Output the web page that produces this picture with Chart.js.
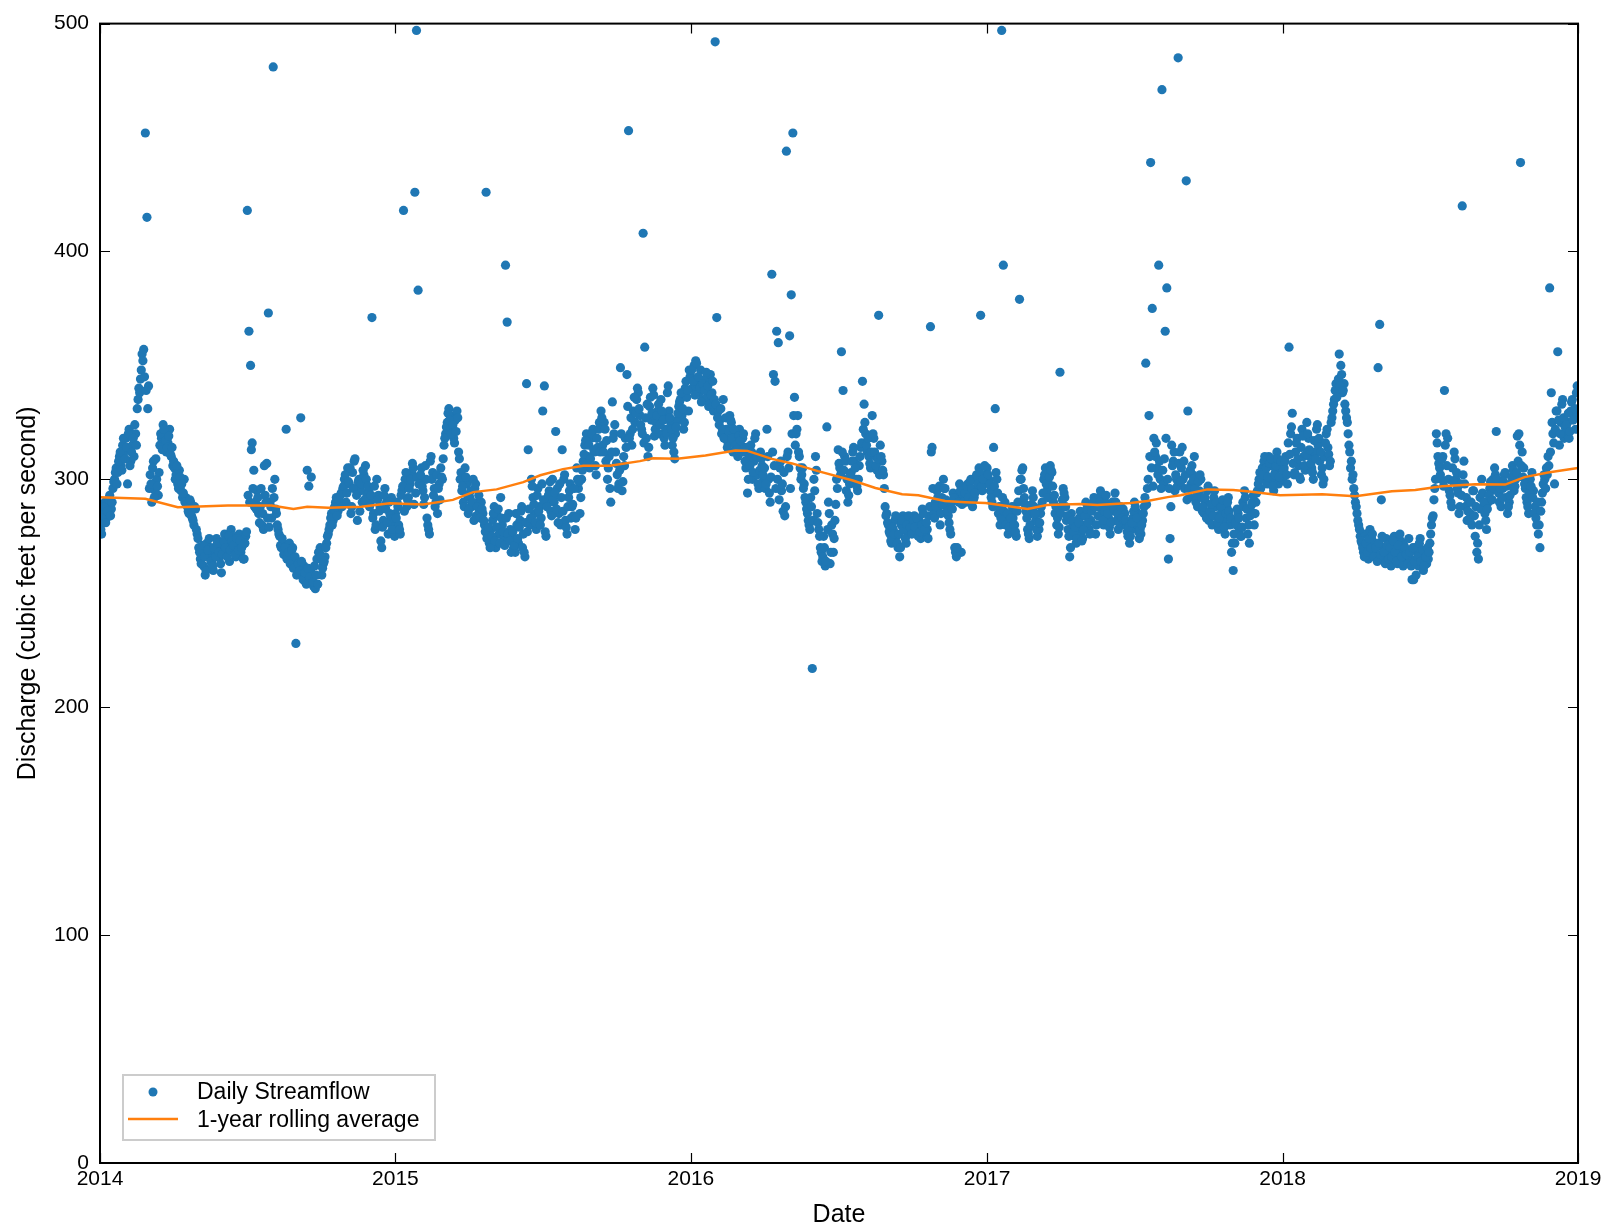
<!DOCTYPE html>
<html>
<head>
<meta charset="utf-8">
<script src="https://cdn.jsdelivr.net/npm/chart.js@4.4.1/dist/chart.umd.min.js"></script>
<style>
  html, body { margin: 0; padding: 0; background: #fff; }
</style>
</head>
<body>
<canvas id="myChart" width="1608" height="1228"></canvas>
<script>
// x axis: days since 2014-01-01, ticks at each new year
const yearLabels = ['2014', '2015', '2016', '2017', '2018', '2019'];
const yearStartDays = [0, 365, 730, 1096, 1461, 1826];
const yTicks = [0, 100, 200, 300, 400, 500];

// daily streamflow (cfs): even days of each year ...
const flow2014 = [280,276,285,290,283,288,293,287,
  296,300,305,303,310,306,315,312,
  318,298,322,308,315,310,320,
  331,340,344,355,357,452,
  415,341,
  302,290,308,295,300,293,
  315,318,324,320,312,316,322,310,306,
  305,302,298,304,295,292,300,
  292,288,285,290,283,280,287,276,
  270,265,268,262,258,272,266,270,264,260,268,274,270,266,259,
  270,276,268,272,264,278,275,270,266,272,276,268,271,265,275,
  418,365,350,316,304,
  290,295,285,288,280,278,293,307,373,290,283,481,300,
  285,278,275,270,272,268,322,266,272,263,270,265,228,260,262,327,258,
  262,255,304,297,260,256,253,252,265,268,270,258,263,266,272,
  276,280,285,282,288,292,286,290,294,296,
  300,290,305,298,285,303,308,296,282,300,295,290,302,306,293,
  295,290,371,285,278,300,293,288,270,282,296,290,276,285,292,280,275];

const flow2015 = [285,290,280,276,295,418,300,288,292,298,303,305,426,497,383,
  300,305,295,292,300,280,276,310,303,296,290,285,298,305,300,
  315,320,325,331,328,322,318,326,330,312,
  300,295,290,305,298,285,292,288,300,296,284,290,286,
  290,285,280,426,275,272,278,282,288,270,284,276,292,280,274,
  394,369,285,278,275,270,268,280,272,282,288,276,266,342,313,
  280,300,292,285,278,296,288,283,330,341,275,290,295,286,300,
  290,321,296,285,280,313,300,282,276,292,298,288,284,278,305,
  296,285,300,308,315,320,310,305,318,322,312,302,314,325,330,
  315,325,308,300,310,290,334,320,312,302,298,349,295,310,318,
  346,453,320,315,330,325,335,338,328,322,408,358,318,310,332,
  326,340,319,325,330,320,335,328,318,322,338,330,325,315,312,320,326,332,335,328,322,340,336,330,345];

const flow2016 = [345,340,350,352,342,338,348,335,340,344,336,332,346,338,330,
  492,371,
  330,326,320,335,318,322,316,328,325,312,320,318,310,
  322,315,318,312,305,294,310,315,300,308,320,302,296,312,306,
  300,296,322,300,290,390,346,343,365,360,305,295,286,284,444,312,363,381,
  452,336,320,328,310,300,305,298,290,285,280,292,217,300,310,
  285,278,270,264,275,262,323,290,263,280,
  268,282,300,313,305,356,339,310,295,290,298,303,312,308,300,
  295,306,314,343,333,320,312,310,305,328,318,310,304,372,315,
  308,302,288,285,280,276,272,278,282,275,270,266,280,284,278,272,276,282,
  279,280,284,276,278,282,274,287,280,276,278,284,367,314,
  285,290,295,288,280,292,300,296,288,284,278,290,294,270,266,293,298,268,
  293,296,290,298,294,300,288,292,296,300,305,372,295,298,302];

const flow2017 = [305,300,295,290,314,331,300,285,280,497,394,290,282,276,278,
  285,283,280,275,290,379,300,305,292,286,278,274,285,295,288,282,275,
  278,285,290,300,305,295,298,306,303,290,285,280,276,347,288,296,292,282,
  278,266,285,280,275,272,278,283,276,274,280,290,285,278,282,288,292,276,
  288,292,295,285,280,290,288,283,276,286,290,294,282,278,285,280,287,
  285,280,275,272,278,283,290,286,280,274,276,282,288,351,296,328,439,
  375,318,310,305,394,300,471,298,365,384,265,274,315,308,295,300,
  485,312,305,300,296,431,330,292,298,302,310,290,288,295,300,
  286,285,290,295,282,286,280,292,288,284,278,290,286,282,276,288,292,280,
  268,260,272,280,285,278,275,290,295,283,276,272,286,290,280,
  290,295,300,296,305,308,302,298,310,306,300,295,303,312,298,305,300];

const flow2018 = [300,305,310,298,358,320,329,302,312,318,306,300,322,310,304,
  325,318,310,305,300,312,322,315,308,302,298,310,320,314,306,
  325,330,335,342,340,355,350,338,342,330,
  325,315,305,300,296,290,285,
  280,275,272,268,276,270,265,278,274,268,272,266,
  349,368,291,270,265,274,268,272,262,266,275,270,263,268,273,266,271,264,269,274,
  265,256,256,270,268,262,274,266,260,268,263,
  265,272,280,284,296,320,310,
  305,300,310,339,320,318,295,290,305,312,300,296,285,298,420,308,
  288,282,290,285,280,295,275,268,265,292,300,288,285,278,290,296,295,
  300,305,321,298,290,288,296,302,292,285,290,298,306,295,300,
  319,320,439,312,305,296,290,285,300,303,295,288,280,276,270,290,298,300,
  305,310,384,338,320,298,330,356,315,325,335,318,
  320,325,318,330,335,328,322,341];

// ... and odd days of each year
const flow2014odd = [278,283,288,281,286,291,284,290,
  299,303,298,308,312,304,318,309,
  314,320,306,312,318,324,315,
  335,338,348,352,345,339,
  331,296,
  298,305,292,309,297,303,
  320,313,322,317,314,319,311,314,308,
  300,306,296,301,298,294,290,
  289,286,291,284,282,288,278,274,
  268,263,271,266,260,269,274,264,262,270,266,272,268,263,267,
  273,270,266,275,269,273,271,267,274,269,273,270,265,272,277,
  293,290,313,296,288,
  287,292,281,296,285,306,290,283,279,288,296,292,287,
  280,276,271,274,267,270,265,268,263,269,261,266,258,263,260,264,256,
  259,254,261,257,301,255,262,258,254,268,266,261,264,270,275,
  278,283,280,287,290,284,291,293,288,297,
  302,294,299,305,288,296,309,293,299,286,298,304,291,300,297,
  288,293,283,297,280,291,286,273,279,293,287,281,290,284,278,283];

const flow2015odd = [283,288,278,293,297,286,303,291,296,300,307,289,294,301,298,
  302,297,289,306,283,278,308,300,293,288,302,296,291,301,309,
  318,323,329,326,320,324,316,321,327,309,
  303,297,288,301,293,287,295,290,282,298,288,293,283,
  287,282,277,274,279,270,275,285,273,279,287,272,283,277,271,
  283,276,273,268,277,271,285,274,279,286,270,268,281,277,287,
  283,297,289,281,293,286,280,298,291,277,288,293,299,284,291,
  294,287,281,298,292,286,302,279,288,295,283,289,296,283,300,
  299,292,304,311,317,307,315,309,320,313,306,318,322,312,327,
  312,322,317,305,296,312,318,324,307,296,304,320,299,306,314,
  332,318,327,322,336,329,340,331,324,320,316,327,333,314,336,
  329,337,322,328,333,324,330,326,315,320,341,327,322,318,309,323,329,334,338,331,325,343,339,348];

const flow2016odd = [348,343,337,351,345,340,334,342,339,347,341,333,337,343,335,
  333,327,
  324,331,322,318,327,314,321,326,318,322,315,313,319,
  317,312,320,308,314,300,306,312,303,318,310,298,304,309,302,
  305,298,310,294,301,312,306,296,300,291,308,298,303,288,310,305,296,320,
  328,315,322,312,305,302,296,292,287,282,278,288,282,295,304,
  281,275,268,266,270,264,278,285,268,276,
  274,289,296,307,302,312,304,308,300,293,302,308,314,305,297,
  300,310,316,322,325,315,318,307,312,320,312,306,309,302,310,
  304,296,284,281,277,273,279,276,284,272,276,270,282,278,274,280,284,279,
  276,282,279,283,275,277,280,285,278,281,274,288,312,296,
  283,288,292,297,285,289,296,291,286,281,276,287,292,268,270,290,295,289,
  290,294,297,292,299,296,291,294,302,298,303,297,300,306];

const flow2017odd = [302,298,292,288,297,303,294,288,283,292,286,280,285,279,283,
  288,280,277,286,295,300,304,296,289,283,276,280,289,292,285,278,281,
  281,288,294,302,298,292,301,304,297,293,288,283,279,285,291,294,288,284,
  275,270,282,277,279,274,281,286,273,278,284,287,281,276,286,290,288,280,
  284,290,288,282,286,293,285,279,281,290,287,290,285,281,288,283,282,
  282,277,279,275,281,286,288,283,277,278,280,285,292,289,300,310,305,
  297,312,316,302,308,296,304,309,318,300,296,288,306,312,302,297,
  307,299,314,308,302,291,296,304,306,300,296,293,299,302,292,
  288,292,283,297,286,289,284,295,290,281,283,288,291,279,285,290,286,283,
  272,276,281,287,283,275,279,288,292,287,280,284,289,293,285,
  294,298,303,300,302,310,305,301,307,309,297,302,306,309,301,308];

const flow2018odd = [304,308,302,316,311,323,307,303,316,309,301,314,319,306,311,
  320,313,307,303,317,309,324,318,312,305,300,316,322,311,308,
  327,333,339,336,344,341,346,339,333,327,
  320,312,308,302,293,288,282,
  278,273,270,266,272,268,274,270,276,266,270,264,
  272,267,275,268,263,271,265,270,266,273,268,264,271,276,266,262,270,267,263,268,
  262,270,264,258,266,272,264,269,262,266,270,
  268,276,283,291,300,316,307,
  302,309,297,315,306,300,293,288,299,309,303,294,288,293,302,298,
  292,286,282,290,295,284,288,272,280,287,294,290,282,287,293,299,291,
  296,302,300,294,296,292,299,303,297,288,293,301,304,297,303,
  308,315,306,301,298,292,288,294,297,292,285,283,290,280,286,294,302,296,
  302,306,312,325,316,322,330,326,320,333,327,323,
  324,329,321,334,326,331,338];

// 1-year rolling average
const avgDays = [0,56,96,158,212,239,256,282,323,358,399,436,461,490,523,544,572,597,630,667,
  683,713,748,785,800,830,855,887,929,958,991,1011,1044,1069,1094,1112,1146,1170,1211,1232,
  1273,1294,1319,1335,1368,1400,1420,1458,1510,1551,1596,1625,1658,1699,1736,1760,1789,1826];
const avgFlow = [292.2,291.5,287.8,288.5,288.5,287,288,287.5,288,289.5,289,291,294.4,295.6,298.8,301.8,304.5,306,306,308,
  309.3,309,310.5,312.7,312.5,309,307,303.6,299.6,296.2,293.5,293,290.5,290,289.6,288.7,287,288.7,289.2,288.7,
  289.6,290.5,292.2,293,295.6,295.3,294.7,293,293.5,292.6,294.8,295.3,297,297.9,297.7,301,303,305];

const evenFlows = [flow2014, flow2015, flow2016, flow2017, flow2018];
const oddFlows = [flow2014odd, flow2015odd, flow2016odd, flow2017odd, flow2018odd];
const dailyPoints = [];
evenFlows.forEach((arr, k) => {
  arr.forEach((v, i) => dailyPoints.push({ x: yearStartDays[k] + 2 * i, y: v }));
});
oddFlows.forEach((arr, k) => {
  arr.forEach((v, i) => dailyPoints.push({ x: yearStartDays[k] + 2 * i + 1, y: v }));
});
const avgPoints = avgDays.map((d, i) => ({ x: d, y: avgFlow[i] }));

const FONT = '"Liberation Sans", Arial, Helvetica, sans-serif';
const BLUE = '#1f77b4';
const ORANGE = '#ff7f0e';

// frame, inward ticks on all four sides, legend box
const framePlugin = {
  id: 'framePlugin',
  afterDraw(chart) {
    const { ctx, chartArea: a, scales: { x, y } } = chart;
    ctx.save();
    ctx.strokeStyle = '#000';
    ctx.lineWidth = 1.2;
    ctx.beginPath();
    yTicks.forEach(v => {
      const py = Math.round(y.getPixelForValue(v)) + 0.5;
      ctx.moveTo(a.left, py); ctx.lineTo(a.left + 10, py);
      ctx.moveTo(a.right, py); ctx.lineTo(a.right - 10, py);
    });
    yearStartDays.forEach(d => {
      const px = Math.round(x.getPixelForValue(d)) + 0.5;
      ctx.moveTo(px, a.bottom); ctx.lineTo(px, a.bottom - 10);
      ctx.moveTo(px, a.top); ctx.lineTo(px, a.top + 10);
    });
    ctx.stroke();
    ctx.lineWidth = 2;
    ctx.strokeRect(a.left, a.top, a.right - a.left, a.bottom - a.top);

    // legend
    const bx = a.left + 23, by = a.bottom - 88, bw = 312, bh = 65;
    ctx.fillStyle = '#fff';
    ctx.fillRect(bx, by, bw, bh);
    ctx.strokeStyle = '#cccccc';
    ctx.lineWidth = 2;
    ctx.strokeRect(bx, by, bw, bh);
    ctx.fillStyle = BLUE;
    ctx.beginPath();
    ctx.arc(bx + 30, by + 17, 4.5, 0, Math.PI * 2);
    ctx.fill();
    ctx.strokeStyle = ORANGE;
    ctx.lineWidth = 2.5;
    ctx.beginPath();
    ctx.moveTo(bx + 5, by + 44); ctx.lineTo(bx + 55, by + 44);
    ctx.stroke();
    ctx.fillStyle = '#000';
    ctx.font = '23px ' + FONT;
    ctx.textBaseline = 'middle';
    ctx.fillText('Daily Streamflow', bx + 74, by + 18);
    ctx.fillText('1-year rolling average', bx + 74, by + 46);
    ctx.restore();
  }
};

const ctx = document.getElementById('myChart');

new Chart(ctx, {
  type: 'scatter',
  data: {
    datasets: [{
      label: '1-year rolling average',
      type: 'line',
      data: avgPoints,
      borderColor: ORANGE,
      borderWidth: 2.5,
      pointRadius: 0,
      tension: 0,
      fill: false,
      order: 0
    }, {
      label: 'Daily Streamflow',
      data: dailyPoints,
      backgroundColor: BLUE,
      borderWidth: 0,
      pointRadius: 4.6,
      order: 1
    }]
  },
  options: {
    responsive: false,
    animation: false,
    devicePixelRatio: 1,
    layout: { padding: { top: 20, right: 30, left: 0, bottom: 0 } },
    plugins: {
      legend: { display: false },
      tooltip: { enabled: false }
    },
    scales: {
      x: {
        type: 'linear',
        min: 0,
        max: 1826,
        afterBuildTicks: (scale) => { scale.ticks = yearStartDays.map(v => ({ value: v })); },
        afterFit: (scale) => { scale.height = 65; },
        grid: { display: false, drawTicks: false },
        border: { display: false },
        ticks: {
          color: '#000',
          font: { family: FONT, size: 21 },
          padding: 4,
          maxRotation: 0,
          callback: (v) => yearLabels[yearStartDays.indexOf(v)]
        },
        title: {
          display: true,
          text: 'Date',
          color: '#000',
          font: { family: FONT, size: 25 },
          padding: { top: 0, bottom: -2 }
        }
      },
      y: {
        min: 0,
        max: 500,
        afterBuildTicks: (scale) => { scale.ticks = yTicks.map(v => ({ value: v })); },
        afterFit: (scale) => { scale.width = 100; },
        grid: { display: false, drawTicks: false },
        border: { display: false },
        ticks: {
          color: '#000',
          font: { family: FONT, size: 21 },
          padding: 11
        },
        title: {
          display: true,
          text: 'Discharge (cubic feet per second)',
          color: '#000',
          font: { family: FONT, size: 25 },
          padding: { top: 13, bottom: 0 }
        }
      }
    }
  },
  plugins: [framePlugin]
});
</script>
</body>
</html>
